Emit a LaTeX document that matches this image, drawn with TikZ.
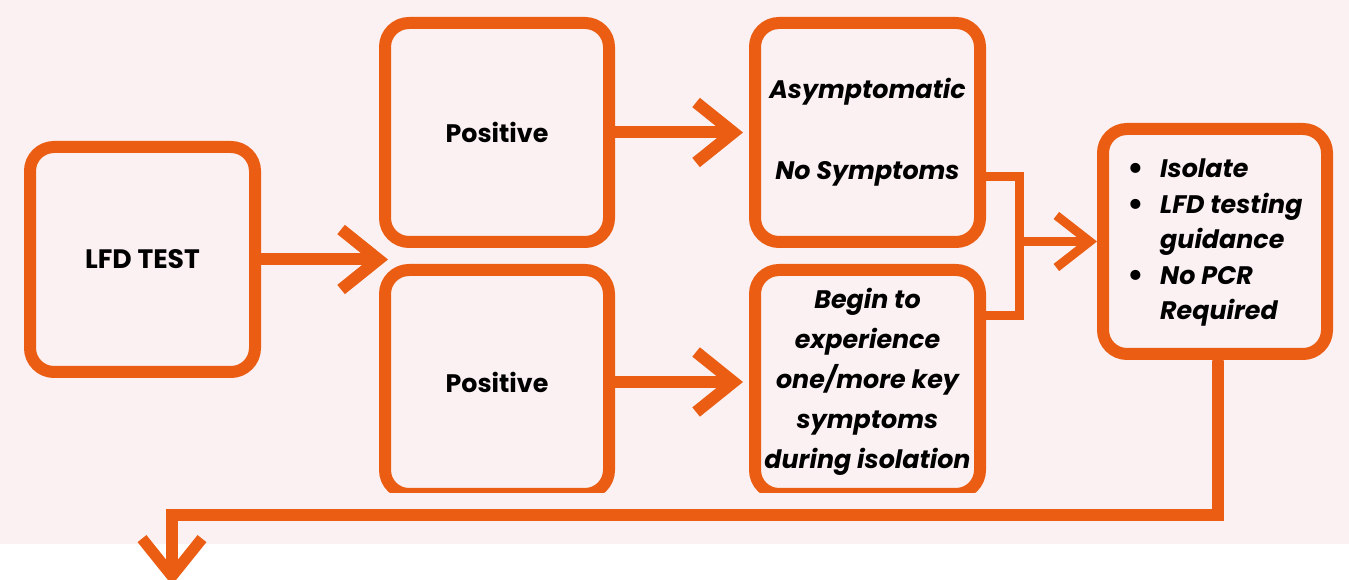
\documentclass[tikz,border=0pt]{standalone}
\usepackage{fontspec}
\newfontfamily\pop{Poppins}
\usetikzlibrary{arrows.meta}
\definecolor{org}{RGB}{234,93,18}
\definecolor{bgpink}{RGB}{251,241,242}
\newcommand{\bigdot}{\upshape\raisebox{-1.5pt}{\fontsize{25pt}{25pt}\selectfont\textbullet}}
\begin{document}
\begin{tikzpicture}[x=0.75pt,y=-0.75pt,
  box/.style={draw=org, line width=9pt, rounded corners=18pt, fill=bgpink, inner sep=0pt,
    font=\pop\bfseries\fontsize{19pt}{23pt}\selectfont, text=black, align=center},
  conn/.style={draw=org, line width=9pt, -{Straight Barb[length=28pt,width=45pt]}},
  thinline/.style={draw=org, line width=6.75pt},
  thinarr/.style={thinline, -{Straight Barb[length=25pt,width=39pt]}}]
\useasboundingbox (0,0) rectangle (1349,580);
\fill[bgpink] (0,0) rectangle (1349,544);

\node[box, minimum width=168.75pt, minimum height=168.75pt,
  font=\pop\bfseries\fontsize{20pt}{24pt}\selectfont] (lfd) at (142.5,259.5) {LFD TEST};
\node[box, minimum width=168pt, minimum height=164.25pt] (p1) at (497,132.5) {Positive};
\node[box, minimum width=168.75pt, minimum height=164.25pt,
  font=\pop\bfseries\itshape\fontsize{19pt}{61pt}\selectfont] (asym) at (867.5,132.5) {Asymptomatic\\No Symptoms};
\begin{scope}
\clip (0,0) rectangle (1349,493);
\node[box, minimum width=168pt, minimum height=168pt] (p2) at (497,382) {Positive};
\node[box, minimum width=168.75pt, minimum height=168pt,
  font=\pop\bfseries\itshape\fontsize{19pt}{30pt}\selectfont] (begin) at (867.5,382)
  {Begin to\\experience\\one/more key\\symptoms\\during isolation};
\end{scope}
\node[box, minimum width=168pt, minimum height=168.75pt,
  font=\pop\bfseries\itshape\fontsize{19pt}{26.6pt}\selectfont] (right) at (1215,241.5)
  {\begin{tabular}{@{}l@{\hspace{12pt}}l@{}}
   \bigdot & Isolate\\
   \bigdot & LFD testing\\
   & guidance\\
   \bigdot & No PCR\\
   & Required
   \end{tabular}};

\coordinate (split) at (388,259.5);
\coordinate (m1) at (1019,177);
\coordinate (m2) at (1019,316);
\coordinate (c1) at (1218,515);
\coordinate (c2) at (172,515);
\coordinate (down) at (172,585);

\draw[conn] (lfd.east) -- (split);
\draw[conn] (p1.east) -- ([xshift=-4.5pt]asym.west);
\draw[conn] (p2.east) -- ([xshift=-4.5pt]begin.west);
\draw[thinline] (asym.east |- m1) -- (m1) -- (m2) -- (begin.east |- m2);
\draw[thinarr] (m1 |- right.west) -- (right.west);
\draw[draw=org, line width=8.5pt, {Round Cap}-{Straight Barb[length=28pt,width=45pt]}]
  ([xshift=2.25pt,yshift=7.5pt]right.south) -- (c1) -- (c2) -- (down);
\end{tikzpicture}
\end{document}
